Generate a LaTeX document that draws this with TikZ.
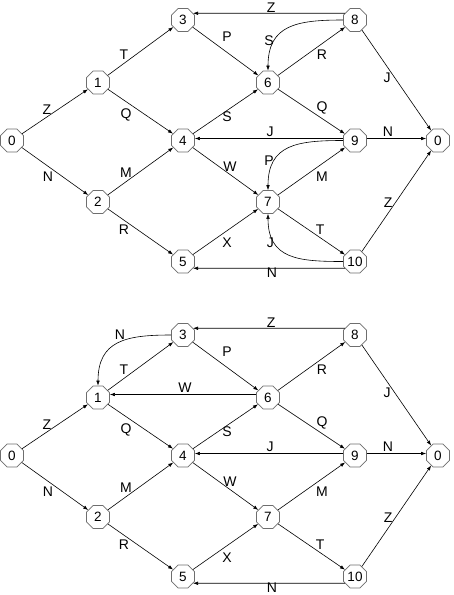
\documentclass[tikz,border=0pt]{standalone}
\usepackage{fontspec}
\setmainfont{Liberation Sans}
\usetikzlibrary{shapes.geometric,arrows.meta,calc}
\definecolor{nodeborder}{RGB}{110,110,110}
\newcommand\elab[6]{\node[lbl] (#1) at ($(#2)!#3!(#4)+(0,#5)$) {#6};}
\begin{document}
\begin{tikzpicture}[x=1pt,y=-1pt,
  oct/.style={regular polygon,regular polygon sides=8,minimum size=24.9pt,inner sep=0pt,
    draw=nodeborder,line width=0.7pt,fill=white,font=\fontsize{13.5}{15}\selectfont},
  lbl/.style={inner sep=0pt,font=\fontsize{14}{16}\selectfont},
  arr/.style={line width=0.6pt,-{Latex[length=5pt,width=3.6pt]}},
  crv/.style={arr,looseness=1.3}]
\useasboundingbox (0,0) rectangle (454,595);
% ---------- top graph ----------
\node[oct] (tA) at (12,140.5) {0};
\node[oct] (t1) at (98,82.5) {1};
\node[oct] (t2) at (98,202) {2};
\node[oct] (t3) at (183,20) {3};
\node[oct] (t4) at (183,140.5) {4};
\node[oct] (t5) at (183,261.5) {5};
\node[oct] (t6) at (268,82.5) {6};
\node[oct] (t7) at (268,202) {7};
\node[oct] (t8) at (355,20) {8};
\node[oct] (t9) at (355,140.5) {9};
\node[oct] (t10) at (355,261.5) {10};
\node[oct] (tB) at (438,140.5) {0};
\draw[arr] (tA) -- (t1);
\draw[arr] (tA) -- (t2);
\draw[arr] (t1) -- (t3);
\draw[arr] (t1) -- (t4);
\draw[arr] (t2) -- (t4);
\draw[arr] (t2) -- (t5);
\draw[arr] (t3) -- (t6);
\draw[arr] (t4) -- (t6);
\draw[arr] (t4) -- (t7);
\draw[arr] (t5) -- (t7);
\draw[arr] (t8.146) -- (t3.34);
\draw[arr] (t6) -- (t8);
\draw[arr] (t6) -- (t9);
\draw[arr] (t8) -- (tB);
\draw[arr] ([yshift=2pt]t9.west) -- ([yshift=2pt]t4.east);
\draw[arr] ([yshift=2pt]t9.east) -- ([yshift=2pt]tB.west);
\draw[arr] (t7) -- (t9);
\draw[arr] (t7) -- (t10);
\draw[arr] (t10) -- (tB);
\draw[arr] (t10.214) -- (t5.326);
\draw[crv] (t8.west) to[out=180,in=90] node[lbl,pos=0.72,anchor=east,inner sep=0.5pt] (tlS2) {S} (t6.north);
\draw[crv] (t9.west) to[out=180,in=90] node[lbl,pos=0.72,anchor=east,inner sep=0.5pt] (tlP2) {P} (t7.north);
\draw[crv] (t10.west) to[out=180,in=-90] node[lbl,pos=0.72,anchor=east,inner sep=0.5pt] (tlJ3) {J} (t7.south);
\elab{tlZ1}{tA}{.407}{t1}{-6.9}{Z}
\elab{tlN1}{tA}{.419}{t2}{10.7}{N}
\elab{tlT1}{t1}{.306}{t3}{-8.4}{T}
\elab{tlQ1}{t1}{.329}{t4}{13.4}{Q}
\elab{tlM1}{t2}{.329}{t4}{-8.8}{M}
\elab{tlR1}{t2}{.306}{t5}{9.8}{R}
\elab{tlP1}{t3}{.518}{t6}{-15.4}{P}
\elab{tlS1}{t4}{.518}{t6}{6.5}{S}
\elab{tlW1}{t4}{.553}{t7}{-7.5}{W}
\elab{tlX1}{t5}{.518}{t7}{12.3}{X}
\elab{tlZ2}{t3}{.512}{t8}{-12.5}{Z}
\elab{tlR2}{t6}{.621}{t8}{11.3}{R}
\elab{tlJ1}{t8}{.386}{tB}{11.5}{J}
\elab{tlQ2}{t6}{.621}{t9}{-10.5}{Q}
\elab{tlJ2}{t4}{.506}{t9}{-8.5}{J}
\elab{tlN2}{t9}{.398}{tB}{-8.5}{N}
\elab{tlM2}{t7}{.621}{t9}{13.2}{M}
\elab{tlT2}{t7}{.598}{t10}{-7.6}{T}
\elab{tlZ3}{t10}{.398}{tB}{-10.3}{Z}
\elab{tlN3}{t5}{.517}{t10}{11.5}{N}
% ---------- bottom graph ----------
\begin{scope}[yshift=-315pt]
\node[oct] (bA) at (12,140.5) {0};
\node[oct] (b1) at (98,82.5) {1};
\node[oct] (b2) at (98,202) {2};
\node[oct] (b3) at (183,20) {3};
\node[oct] (b4) at (183,140.5) {4};
\node[oct] (b5) at (183,261.5) {5};
\node[oct] (b6) at (268,82.5) {6};
\node[oct] (b7) at (268,202) {7};
\node[oct] (b8) at (355,20) {8};
\node[oct] (b9) at (355,140.5) {9};
\node[oct] (b10) at (355,261.5) {10};
\node[oct] (bB) at (438,140.5) {0};
\end{scope}
\draw[arr] (bA) -- (b1);
\draw[arr] (bA) -- (b2);
\draw[arr] (b1) -- (b3);
\draw[arr] (b1) -- (b4);
\draw[arr] (b2) -- (b4);
\draw[arr] (b2) -- (b5);
\draw[arr] (b3) -- (b6);
\draw[arr] (b4) -- (b6);
\draw[arr] (b4) -- (b7);
\draw[arr] (b5) -- (b7);
\draw[arr] (b8.146) -- (b3.34);
\draw[arr] (b6) -- (b8);
\draw[arr] (b6) -- (b9);
\draw[arr] (b8) -- (bB);
\draw[arr] ([yshift=2pt]b9.west) -- ([yshift=2pt]b4.east);
\draw[arr] ([yshift=2pt]b9.east) -- ([yshift=2pt]bB.west);
\draw[arr] ([yshift=3pt]b6.west) -- ([yshift=3pt]b1.east);
\draw[arr] (b7) -- (b9);
\draw[arr] (b7) -- (b10);
\draw[arr] (b10) -- (bB);
\draw[arr] (b10.214) -- (b5.326);
\draw[crv] (b3.west) to[out=180,in=90] node[lbl,pos=0.4,anchor=south east,inner sep=0.5pt] (blN4) {N} (b1.north);
\elab{blZ1}{bA}{.407}{b1}{-6.9}{Z}
\elab{blN1}{bA}{.419}{b2}{10.7}{N}
\elab{blT1}{b1}{.306}{b3}{-8.4}{T}
\elab{blQ1}{b1}{.329}{b4}{13.4}{Q}
\elab{blM1}{b2}{.329}{b4}{-8.8}{M}
\elab{blR1}{b2}{.306}{b5}{9.8}{R}
\elab{blP1}{b3}{.518}{b6}{-15.4}{P}
\elab{blS1}{b4}{.518}{b6}{6.5}{S}
\elab{blW1}{b4}{.553}{b7}{-7.5}{W}
\elab{blX1}{b5}{.518}{b7}{12.3}{X}
\elab{blZ2}{b3}{.512}{b8}{-12.5}{Z}
\elab{blR2}{b6}{.621}{b8}{11.3}{R}
\elab{blJ1}{b8}{.386}{bB}{11.5}{J}
\elab{blQ2}{b6}{.621}{b9}{-10.5}{Q}
\elab{blJ2}{b4}{.506}{b9}{-8.5}{J}
\elab{blN2}{b9}{.398}{bB}{-8.5}{N}
\elab{blM2}{b7}{.621}{b9}{13.2}{M}
\elab{blT2}{b7}{.598}{b10}{-7.6}{T}
\elab{blZ3}{b10}{.398}{bB}{-10.3}{Z}
\elab{blN3}{b5}{.517}{b10}{11.5}{N}
\elab{blW2}{b1}{.512}{b6}{-9.5}{W}
\end{tikzpicture}
\end{document}
